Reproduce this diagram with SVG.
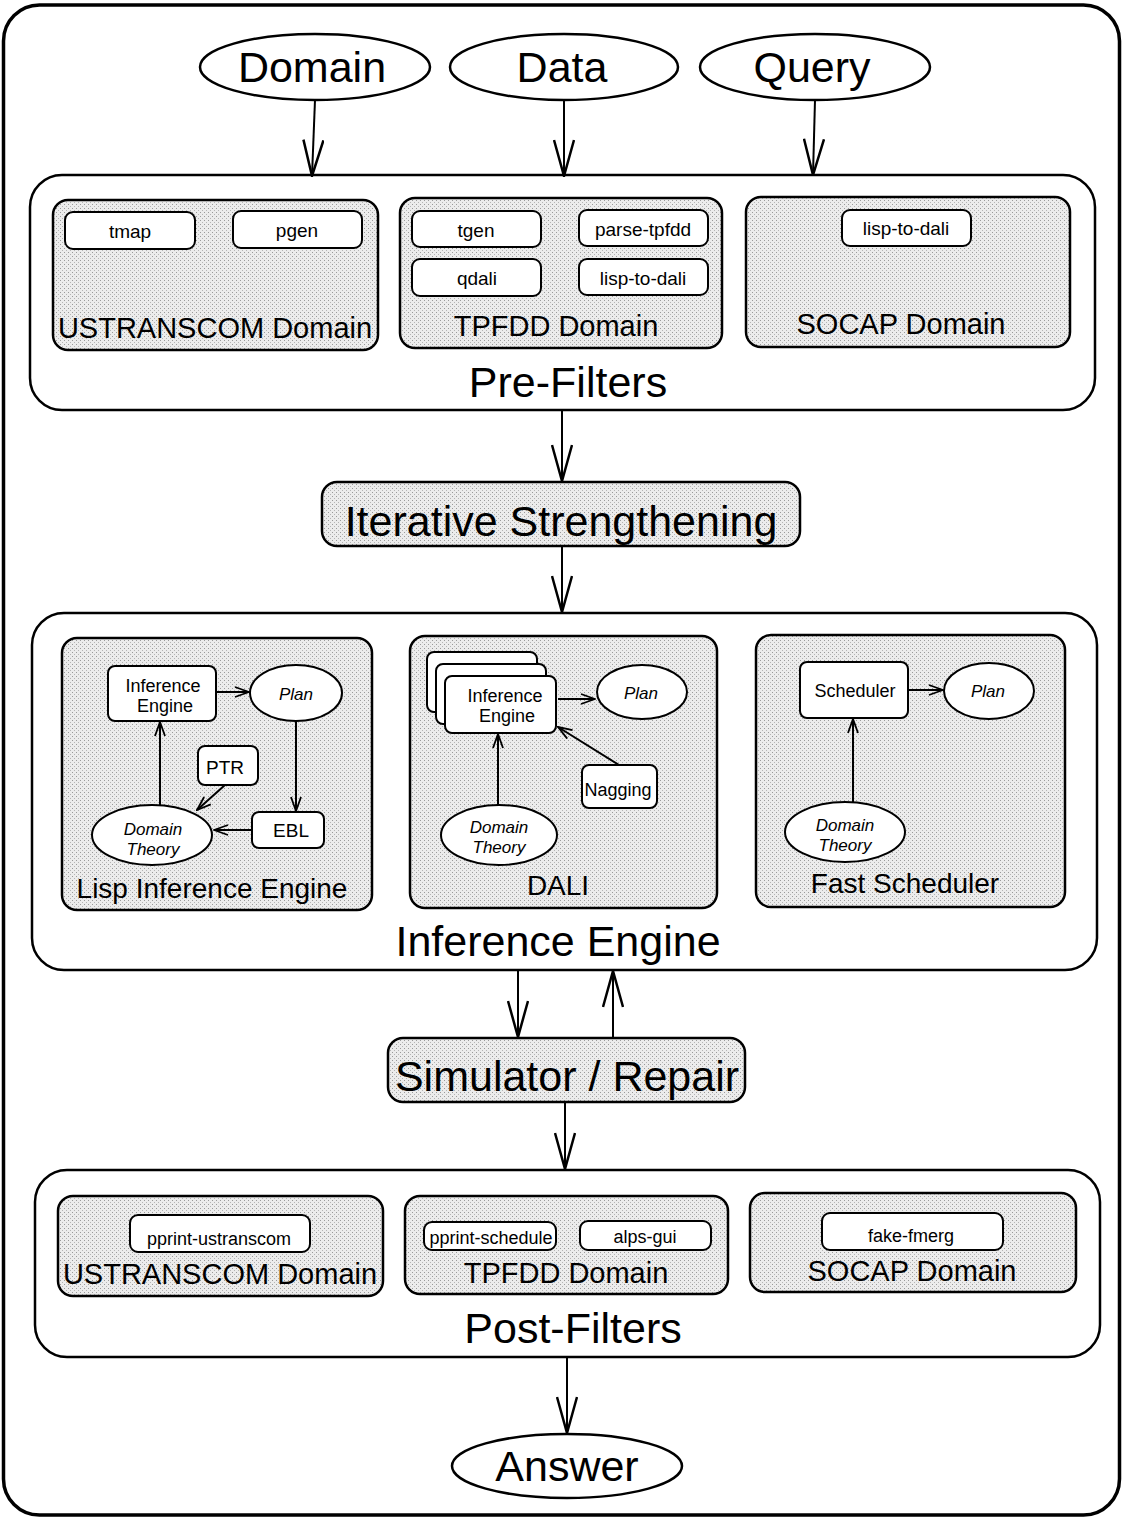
<svg xmlns="http://www.w3.org/2000/svg" width="1127" height="1522" viewBox="0 0 1127 1522">
<defs>
<marker id="big" viewBox="0 0 38 22" refX="37" refY="11" markerWidth="38" markerHeight="22" markerUnits="userSpaceOnUse" orient="auto">
<path d="M1,1 L37,11 L1,21" fill="none" stroke="#000" stroke-width="2.5"/>
</marker>
<marker id="small" viewBox="0 0 16 12" refX="15" refY="6" markerWidth="16" markerHeight="12" markerUnits="userSpaceOnUse" orient="auto">
<path d="M1,1 L15,6 L1,11" fill="none" stroke="#000" stroke-width="1.8"/>
</marker>
<pattern id="dots" width="4" height="4" patternUnits="userSpaceOnUse">
<rect width="4" height="4" fill="#ececec"/>
<rect x="0" y="0" width="1" height="1" fill="#9a9a9a"/>
<rect x="2" y="2" width="1" height="1" fill="#b5b5b5"/>
</pattern>
<style>
text{font-family:"Liberation Sans",Arial,sans-serif;fill:#000;text-anchor:middle}
.frame{fill:#fff;stroke:#000;stroke-width:3.5}
.outer{fill:#fff;stroke:#000;stroke-width:2.5}
.shade{fill:url(#dots);stroke:#000;stroke-width:2.5}
.box{fill:#fff;stroke:#000;stroke-width:2}
.big{font-size:43px}
.mid{font-size:29px}
.lab{font-size:28px}
.sm{font-size:19px}
.it{font-size:17px;font-style:italic}
.conn line,.conn path{stroke:#000;stroke-width:2;fill:none}
.bigarrow{marker-end:url(#big)}
.smallarrow{marker-end:url(#small)}
</style>
</defs>

<rect class="frame" x="3.5" y="5" width="1116" height="1510" rx="36"/>

<g id="domain"><ellipse class="outer" cx="315" cy="67" rx="115" ry="33"/><text class="big" x="312" y="82">Domain</text></g>
<g id="data"><ellipse class="outer" cx="564" cy="67" rx="114" ry="33"/><text class="big" x="562" y="82">Data</text></g>
<g id="query"><ellipse class="outer" cx="815" cy="67" rx="115" ry="33"/><text class="big" x="812" y="82">Query</text></g>

<g id="pre-filters">
<rect class="outer" x="30" y="175" width="1065" height="235" rx="32"/>
<text class="big" x="568" y="397">Pre-Filters</text>
</g>
<g id="pre-ustranscom">
<rect class="shade" x="53" y="200" width="325" height="150" rx="15"/>
<rect class="box" x="65" y="212" width="130" height="37" rx="8"/><text class="sm" x="130" y="238">tmap</text>
<rect class="box" x="233" y="211" width="129" height="37" rx="8"/><text class="sm" x="297" y="237">pgen</text>
<text class="mid" x="215" y="338">USTRANSCOM Domain</text>
</g>
<g id="pre-tpfdd">
<rect class="shade" x="400" y="198" width="322" height="150" rx="15"/>
<rect class="box" x="412" y="211" width="129" height="36" rx="8"/><text class="sm" x="476" y="237">tgen</text>
<rect class="box" x="579" y="210" width="129" height="36" rx="8"/><text class="sm" x="643" y="236">parse-tpfdd</text>
<rect class="box" x="412" y="259" width="129" height="37" rx="8"/><text class="sm" x="477" y="285">qdali</text>
<rect class="box" x="579" y="259" width="129" height="36" rx="8"/><text class="sm" x="643" y="285">lisp-to-dali</text>
<text class="mid" x="556" y="336">TPFDD Domain</text>
</g>
<g id="pre-socap">
<rect class="shade" x="746" y="197" width="324" height="150" rx="15"/>
<rect class="box" x="842" y="210" width="129" height="36" rx="8"/><text class="sm" x="906" y="235">lisp-to-dali</text>
<text class="mid" x="901" y="334">SOCAP Domain</text>
</g>

<g id="iterative-strengthening">
<rect class="shade" x="322" y="482" width="478" height="64" rx="15"/>
<text class="big" x="561" y="536">Iterative Strengthening</text>
</g>

<g id="inference-engine">
<rect class="outer" x="32" y="613" width="1065" height="357" rx="32"/>
<text class="big" x="558" y="956">Inference Engine</text>
</g>

<g id="lisp-inference-engine">
<rect class="shade" x="62" y="638" width="310" height="272" rx="15"/>
<text class="lab" x="212" y="898">Lisp Inference Engine</text>
</g>
<g id="lisp-ie">
<rect class="box" x="108" y="666" width="108" height="55" rx="7"/>
<text class="sm" x="163" y="692" style="font-size:18px">Inference</text>
<text class="sm" x="165" y="712" style="font-size:18px">Engine</text>
</g>
<g id="lisp-plan"><ellipse class="box" cx="296" cy="693" rx="46" ry="28"/><text class="it" x="296" y="700">Plan</text></g>
<g id="lisp-ptr"><rect class="box" x="198" y="746" width="60" height="39" rx="7"/><text class="sm" x="225" y="774">PTR</text></g>
<g id="lisp-ebl"><rect class="box" x="252" y="812" width="72" height="36" rx="7"/><text class="sm" x="291" y="837">EBL</text></g>
<g id="lisp-dt"><ellipse class="box" cx="152" cy="835" rx="60" ry="30"/><text class="it" x="153" y="835">Domain</text><text class="it" x="153" y="855">Theory</text></g>

<g id="dali">
<rect class="shade" x="410" y="636" width="307" height="272" rx="15"/>
<text class="lab" x="558" y="895">DALI</text>
</g>
<g id="dali-ie">
<rect class="box" x="427" y="652" width="110" height="60" rx="7"/>
<rect class="box" x="436" y="664" width="110" height="60" rx="7"/>
<rect class="box" x="445" y="676" width="111" height="57" rx="7"/>
<text class="sm" x="505" y="702" style="font-size:18px">Inference</text>
<text class="sm" x="507" y="722" style="font-size:18px">Engine</text>
</g>
<g id="dali-plan"><ellipse class="box" cx="642" cy="692" rx="45" ry="27"/><text class="it" x="641" y="699">Plan</text></g>
<g id="dali-nagging"><rect class="box" x="582" y="765" width="75" height="43" rx="7"/><text class="sm" x="618" y="796" style="font-size:18px">Nagging</text></g>
<g id="dali-dt"><ellipse class="box" cx="499" cy="835" rx="58" ry="30"/><text class="it" x="499" y="833">Domain</text><text class="it" x="499" y="853">Theory</text></g>

<g id="fast-scheduler">
<rect class="shade" x="756" y="635" width="309" height="272" rx="15"/>
<text class="lab" x="905" y="893">Fast Scheduler</text>
</g>
<g id="fs-scheduler"><rect class="box" x="800" y="662" width="108" height="56" rx="7"/><text class="sm" x="855" y="697" style="font-size:18px">Scheduler</text></g>
<g id="fs-plan"><ellipse class="box" cx="989" cy="691" rx="45" ry="28"/><text class="it" x="988" y="697">Plan</text></g>
<g id="fs-dt"><ellipse class="box" cx="845" cy="832" rx="60" ry="30"/><text class="it" x="845" y="831">Domain</text><text class="it" x="845" y="851">Theory</text></g>

<g id="simulator-repair">
<rect class="shade" x="388" y="1038" width="357" height="64" rx="15"/>
<text class="big" x="567" y="1091">Simulator / Repair</text>
</g>

<g id="post-filters">
<rect class="outer" x="35" y="1170" width="1065" height="187" rx="32"/>
<text class="big" x="573" y="1343">Post-Filters</text>
</g>
<g id="post-ustranscom">
<rect class="shade" x="58" y="1196" width="325" height="100" rx="15"/>
<rect class="box" x="130" y="1215" width="180" height="37" rx="8"/><text class="sm" x="219" y="1245" style="font-size:18px">pprint-ustranscom</text>
<text class="mid" x="220" y="1284">USTRANSCOM Domain</text>
</g>
<g id="post-tpfdd">
<rect class="shade" x="405" y="1196" width="323" height="98" rx="15"/>
<rect class="box" x="424" y="1222" width="132" height="28" rx="8"/><text class="sm" x="491" y="1244" style="font-size:18px">pprint-schedule</text>
<rect class="box" x="580" y="1221" width="131" height="29" rx="8"/><text class="sm" x="645" y="1243" style="font-size:18px">alps-gui</text>
<text class="mid" x="566" y="1283">TPFDD Domain</text>
</g>
<g id="post-socap">
<rect class="shade" x="750" y="1193" width="326" height="99" rx="15"/>
<rect class="box" x="822" y="1213" width="181" height="37" rx="8"/><text class="sm" x="911" y="1242" style="font-size:18px">fake-fmerg</text>
<text class="mid" x="912" y="1281">SOCAP Domain</text>
</g>

<g id="answer"><ellipse class="outer" cx="567" cy="1466" rx="115" ry="32"/><text class="big" x="567" y="1481">Answer</text></g>

<g class="conn" id="connectors">
<line class="bigarrow" x1="315" y1="100" x2="312" y2="176"/>
<line class="bigarrow" x1="564" y1="100" x2="564" y2="176"/>
<line class="bigarrow" x1="815" y1="100" x2="813" y2="175"/>
<line class="bigarrow" x1="562" y1="410" x2="562" y2="481"/>
<line class="bigarrow" x1="562" y1="546" x2="562" y2="612"/>
<line class="bigarrow" x1="518" y1="970" x2="518" y2="1037"/>
<line class="bigarrow" x1="613" y1="1038" x2="613" y2="971"/>
<line class="bigarrow" x1="565" y1="1102" x2="565" y2="1169"/>
<line class="bigarrow" x1="567" y1="1357" x2="567" y2="1433"/>
<line class="smallarrow" x1="216" y1="692" x2="249" y2="692"/>
<line class="smallarrow" x1="296" y1="721" x2="296" y2="811"/>
<line class="smallarrow" x1="252" y1="830" x2="214" y2="830"/>
<line class="smallarrow" x1="160" y1="805" x2="160" y2="722"/>
<line class="smallarrow" x1="225" y1="785" x2="197" y2="810"/>
<line class="smallarrow" x1="558" y1="699" x2="595" y2="699"/>
<line class="smallarrow" x1="619" y1="765" x2="558" y2="727"/>
<line class="smallarrow" x1="498" y1="805" x2="498" y2="734"/>
<line class="smallarrow" x1="908" y1="690" x2="943" y2="690"/>
<line class="smallarrow" x1="853" y1="802" x2="853" y2="719"/>
</g>
</svg>
